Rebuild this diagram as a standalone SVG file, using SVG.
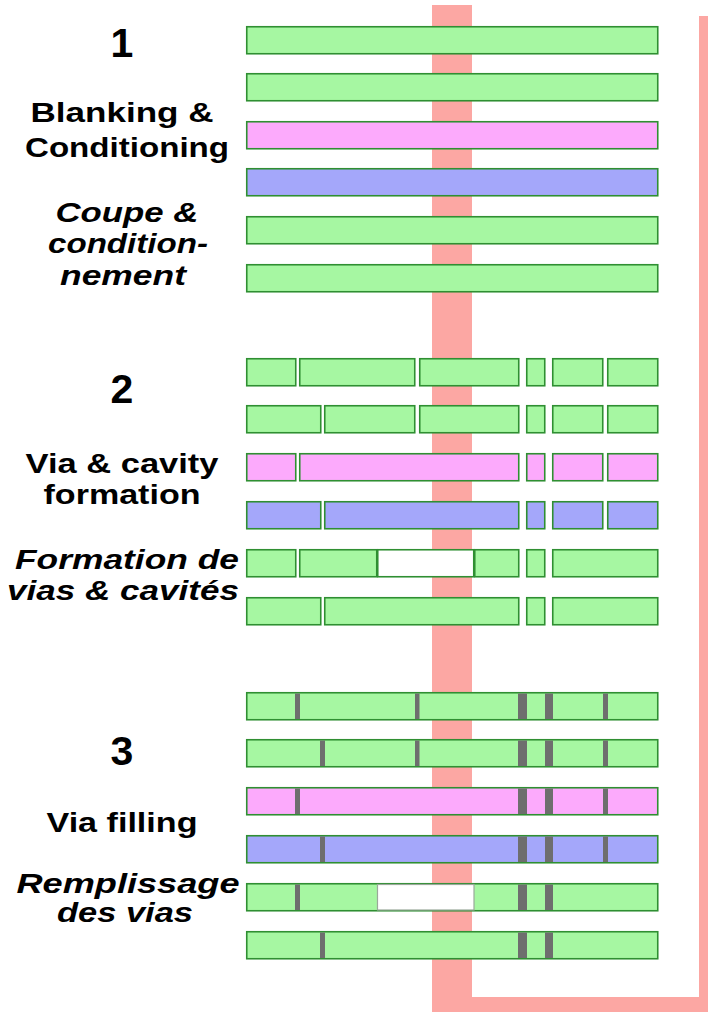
<svg xmlns="http://www.w3.org/2000/svg" width="708" height="1012" viewBox="0 0 708 1012">
<style>
.g{fill:#a6f7a2;stroke:#2f8f32;stroke-width:1.6}
.p{fill:#fcaafc;stroke:#2f8f32;stroke-width:1.6}
.b{fill:#a4a7fa;stroke:#2f8f32;stroke-width:1.6}
.c{fill:#ffffff;stroke:#2f8f32;stroke-width:1.6}
.c3{fill:#ffffff;stroke:#9aa89a;stroke-width:1.2}
.k{fill:#6e6e6e}
.band{fill:#fca7a3}
.num{font-family:"Liberation Sans",Arial,sans-serif;font-weight:bold;font-size:41px;fill:#000;text-anchor:middle}
.en{font-family:"Liberation Sans",Arial,sans-serif;font-weight:bold;font-size:28px;fill:#000;text-anchor:middle}
.fr{font-family:"Liberation Sans",Arial,sans-serif;font-weight:bold;font-style:italic;font-size:28px;fill:#000;text-anchor:middle}
</style>
<rect width="708" height="1012" fill="#ffffff"/>
<g id="connectors">
<rect class="band" x="432" y="5" width="40" height="1007"/>
<rect class="band" x="472" y="997" width="236" height="15"/>
<rect class="band" x="699" y="16" width="9" height="996"/>
</g>
<g id="labels">
<text class="num" x="122" y="57">1</text>
<text class="en" x="122" y="122" textLength="183" lengthAdjust="spacingAndGlyphs">Blanking &amp;</text>
<text class="en" x="127" y="157" textLength="204" lengthAdjust="spacingAndGlyphs">Conditioning</text>
<text class="fr" x="127" y="222" textLength="143" lengthAdjust="spacingAndGlyphs">Coupe &amp;</text>
<text class="fr" x="128" y="253" textLength="160" lengthAdjust="spacingAndGlyphs">condition-</text>
<text class="fr" x="123" y="285" textLength="126" lengthAdjust="spacingAndGlyphs">nement</text>
<text class="num" x="122" y="403">2</text>
<text class="en" x="122" y="473" textLength="193" lengthAdjust="spacingAndGlyphs">Via &amp; cavity</text>
<text class="en" x="122" y="504" textLength="157" lengthAdjust="spacingAndGlyphs">formation</text>
<text class="fr" x="127" y="569" textLength="224" lengthAdjust="spacingAndGlyphs">Formation de</text>
<text class="fr" x="123" y="600" textLength="232" lengthAdjust="spacingAndGlyphs">vias &amp; cavités</text>
<text class="num" x="122" y="765">3</text>
<text class="en" x="122" y="832" textLength="151" lengthAdjust="spacingAndGlyphs">Via filling</text>
<text class="fr" x="128" y="893" textLength="223" lengthAdjust="spacingAndGlyphs">Remplissage</text>
<text class="fr" x="125" y="922" textLength="136" lengthAdjust="spacingAndGlyphs">des vias</text>
</g>
<g id="step1">
<rect id="s1-l1" class="g" x="246.75" y="26.75" width="411" height="27"/>
<rect id="s1-l2" class="g" x="246.75" y="73.75" width="411" height="27"/>
<rect id="s1-l3" class="p" x="246.75" y="121.75" width="411" height="27"/>
<rect id="s1-l4" class="b" x="246.75" y="168.75" width="411" height="27"/>
<rect id="s1-l5" class="g" x="246.75" y="216.75" width="411" height="27"/>
<rect id="s1-l6" class="g" x="246.75" y="264.75" width="411" height="27"/>
</g>
<g id="step2">
<g id="s2-l1">
<rect class="g" x="246.75" y="358.75" width="49" height="27"/>
<rect class="g" x="299.75" y="358.75" width="115" height="27"/>
<rect class="g" x="419.75" y="358.75" width="99" height="27"/>
<rect class="g" x="526.75" y="358.75" width="18" height="27"/>
<rect class="g" x="552.75" y="358.75" width="50" height="27"/>
<rect class="g" x="607.75" y="358.75" width="50" height="27"/>
</g>
<g id="s2-l2">
<rect class="g" x="246.75" y="405.75" width="74" height="27"/>
<rect class="g" x="324.75" y="405.75" width="90" height="27"/>
<rect class="g" x="419.75" y="405.75" width="99" height="27"/>
<rect class="g" x="526.75" y="405.75" width="18" height="27"/>
<rect class="g" x="552.75" y="405.75" width="50" height="27"/>
<rect class="g" x="607.75" y="405.75" width="50" height="27"/>
</g>
<g id="s2-l3">
<rect class="p" x="246.75" y="453.75" width="49" height="27"/>
<rect class="p" x="299.75" y="453.75" width="219" height="27"/>
<rect class="p" x="526.75" y="453.75" width="18" height="27"/>
<rect class="p" x="552.75" y="453.75" width="50" height="27"/>
<rect class="p" x="607.75" y="453.75" width="50" height="27"/>
</g>
<g id="s2-l4">
<rect class="b" x="246.75" y="501.75" width="74" height="27"/>
<rect class="b" x="324.75" y="501.75" width="194" height="27"/>
<rect class="b" x="526.75" y="501.75" width="18" height="27"/>
<rect class="b" x="552.75" y="501.75" width="50" height="27"/>
<rect class="b" x="607.75" y="501.75" width="50" height="27"/>
</g>
<g id="s2-l5">
<rect class="g" x="246.75" y="549.75" width="49" height="27"/>
<rect class="g" x="299.75" y="549.75" width="77" height="27"/>
<rect class="c" x="377.75" y="549.75" width="96" height="27"/>
<rect class="g" x="474.75" y="549.75" width="44" height="27"/>
<rect class="g" x="526.75" y="549.75" width="18" height="27"/>
<rect class="g" x="552.75" y="549.75" width="105" height="27"/>
</g>
<g id="s2-l6">
<rect class="g" x="246.75" y="597.75" width="74" height="27"/>
<rect class="g" x="324.75" y="597.75" width="194" height="27"/>
<rect class="g" x="526.75" y="597.75" width="18" height="27"/>
<rect class="g" x="552.75" y="597.75" width="105" height="27"/>
</g>
</g>
<g id="step3">
<g id="s3-l1">
<rect class="g" x="246.75" y="692.75" width="411" height="27"/>
<rect class="k" x="295" y="693.5" width="5" height="25.5"/>
<rect class="k" x="415" y="693.5" width="4.5" height="25.5"/>
<rect class="k" x="518" y="693.5" width="9" height="25.5"/>
<rect class="k" x="545" y="693.5" width="8" height="25.5"/>
<rect class="k" x="603" y="693.5" width="5" height="25.5"/>
</g>
<g id="s3-l2">
<rect class="g" x="246.75" y="739.75" width="411" height="27"/>
<rect class="k" x="320" y="740.5" width="5" height="25.5"/>
<rect class="k" x="415" y="740.5" width="4.5" height="25.5"/>
<rect class="k" x="518" y="740.5" width="9" height="25.5"/>
<rect class="k" x="545" y="740.5" width="8" height="25.5"/>
<rect class="k" x="603" y="740.5" width="5" height="25.5"/>
</g>
<g id="s3-l3">
<rect class="p" x="246.75" y="787.75" width="411" height="27"/>
<rect class="k" x="295" y="788.5" width="5" height="25.5"/>
<rect class="k" x="518" y="788.5" width="9" height="25.5"/>
<rect class="k" x="545" y="788.5" width="8" height="25.5"/>
<rect class="k" x="603" y="788.5" width="5" height="25.5"/>
</g>
<g id="s3-l4">
<rect class="b" x="246.75" y="835.75" width="411" height="27"/>
<rect class="k" x="320" y="836.5" width="5" height="25.5"/>
<rect class="k" x="518" y="836.5" width="9" height="25.5"/>
<rect class="k" x="545" y="836.5" width="8" height="25.5"/>
<rect class="k" x="603" y="836.5" width="5" height="25.5"/>
</g>
<g id="s3-l5">
<rect class="g" x="246.75" y="883.75" width="411" height="27"/>
<rect class="c3" x="377.5" y="884.5" width="96.5" height="25.5"/>
<rect class="k" x="295" y="884.5" width="5" height="25.5"/>
<rect class="k" x="518" y="884.5" width="9" height="25.5"/>
<rect class="k" x="545" y="884.5" width="8" height="25.5"/>
</g>
<g id="s3-l6">
<rect class="g" x="246.75" y="931.75" width="411" height="27"/>
<rect class="k" x="320" y="932.5" width="5" height="25.5"/>
<rect class="k" x="518" y="932.5" width="9" height="25.5"/>
<rect class="k" x="545" y="932.5" width="8" height="25.5"/>
</g>
</g>
</svg>
